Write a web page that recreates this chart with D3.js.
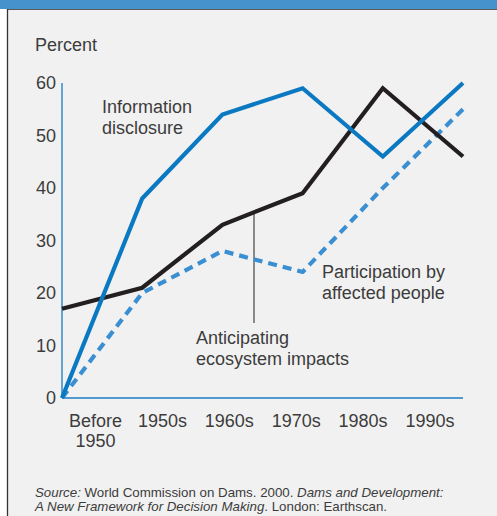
<!DOCTYPE html>
<html>
<head>
<meta charset="utf-8">
<script src="https://cdn.jsdelivr.net/npm/d3@7"></script>
<style>
  html, body { margin: 0; padding: 0; background: #ffffff; }
  svg { display: block; }
  text { font-family: "Liberation Sans", Arial, Helvetica, sans-serif; fill: #3c3c3c; }
</style>
</head>
<body>
<svg id="chart" width="497" height="516"></svg>
<script>
const categories = ["Before 1950", "1950s", "1960s", "1970s", "1980s", "1990s"];
const infoDisclosure = [0, 38, 54, 59, 46, 60];
const ecosystemImpacts = [17, 21, 33, 39, 59, 46];
const participation = [0, 20, 28, 24, 40, 55];
const yTicks = [0, 10, 20, 30, 40, 50, 60];

const svg = d3.select("#chart");
const W = 497, H = 516;

// frame
svg.append("rect").attr("x", 8).attr("y", 0).attr("width", W - 8).attr("height", H).attr("fill", "#f1f1f1");
svg.append("rect").attr("x", 0).attr("y", 0).attr("width", W).attr("height", 9).attr("fill", "#4692cd");
svg.append("line").attr("x1", 7).attr("x2", W).attr("y1", 9.5).attr("y2", 9.5).attr("stroke", "#5a5a5a").attr("stroke-width", 1);
svg.append("line").attr("x1", 7.5).attr("x2", 7.5).attr("y1", 9).attr("y2", H).attr("stroke", "#333333").attr("stroke-width", 1.3);

const x = d3.scalePoint().domain(categories).range([62, 463]);
const xLabel = d3.scalePoint().domain(categories).range([95.5, 430]);
const y = d3.scaleLinear().domain([0, 60]).range([398, 83]);

const axisBlue = "#1a7cc4";

// axes lines
svg.append("line").attr("x1", 62).attr("x2", 62).attr("y1", y(60)).attr("y2", y(0)).attr("stroke", axisBlue).attr("stroke-width", 1.3);
svg.append("line").attr("x1", 62).attr("x2", 463).attr("y1", y(0)).attr("y2", y(0)).attr("stroke", axisBlue).attr("stroke-width", 1.3);

// y tick labels
svg.selectAll(".ytick").data(yTicks).enter().append("text")
  .attr("x", 56).attr("y", d => y(d)).attr("dy", "0.36em")
  .attr("text-anchor", "end").attr("font-size", 18).text(d => d);

svg.append("text").attr("x", 35).attr("y", 51).attr("font-size", 18).text("Percent");

// x labels
categories.forEach(c => {
  const parts = c === "Before 1950" ? ["Before", "1950"] : [c];
  const t = svg.append("text").attr("x", xLabel(c)).attr("y", 427).attr("text-anchor", "middle").attr("font-size", 18);
  parts.forEach((p, i) => t.append("tspan").attr("x", xLabel(c)).attr("dy", i === 0 ? 0 : 20).text(p));
});

const line = d3.line().x((d, i) => x(categories[i])).y(d => y(d));

// leader line
svg.append("line").attr("x1", 254).attr("x2", 254)
  .attr("y1", y(d3.interpolateNumber(ecosystemImpacts[2], ecosystemImpacts[3])((254 - x(categories[2])) / (x(categories[3]) - x(categories[2])))))
  .attr("y2", 323).attr("stroke", "#222").attr("stroke-width", 1);

svg.append("path").datum(participation).attr("d", line).attr("fill", "none")
  .attr("stroke", "#3a8fd2").attr("stroke-width", 4.2).attr("stroke-dasharray", "9,6").attr("stroke-linecap", "butt").attr("stroke-linejoin", "round");
svg.append("path").datum(ecosystemImpacts).attr("d", line).attr("fill", "none")
  .attr("stroke", "#231f20").attr("stroke-width", 4.2).attr("stroke-linejoin", "miter");
svg.append("path").datum(infoDisclosure).attr("d", line).attr("fill", "none")
  .attr("stroke", "#0a79c2").attr("stroke-width", 4.2).attr("stroke-linejoin", "miter");

// annotations
function multi(xp, yp, lines) {
  const t = svg.append("text").attr("x", xp).attr("y", yp).attr("font-size", 18);
  lines.forEach((l, i) => t.append("tspan").attr("x", xp).attr("dy", i === 0 ? 0 : 21).text(l));
}
multi(102, 113, ["Information", "disclosure"]);
multi(322, 278, ["Participation by", "affected people"]);
multi(196, 344, ["Anticipating", "ecosystem impacts"]);

// source
const s1 = svg.append("text").attr("x", 35).attr("y", 497).attr("font-size", 13.3);
s1.append("tspan").attr("font-style", "italic").text("Source:");
s1.append("tspan").text(" World Commission on Dams. 2000. ");
s1.append("tspan").attr("font-style", "italic").text("Dams and Development:");
const s2 = svg.append("text").attr("x", 35).attr("y", 511).attr("font-size", 13.3);
s2.append("tspan").attr("font-style", "italic").text("A New Framework for Decision Making");
s2.append("tspan").text(". London: Earthscan.");
</script>
</body>
</html>
